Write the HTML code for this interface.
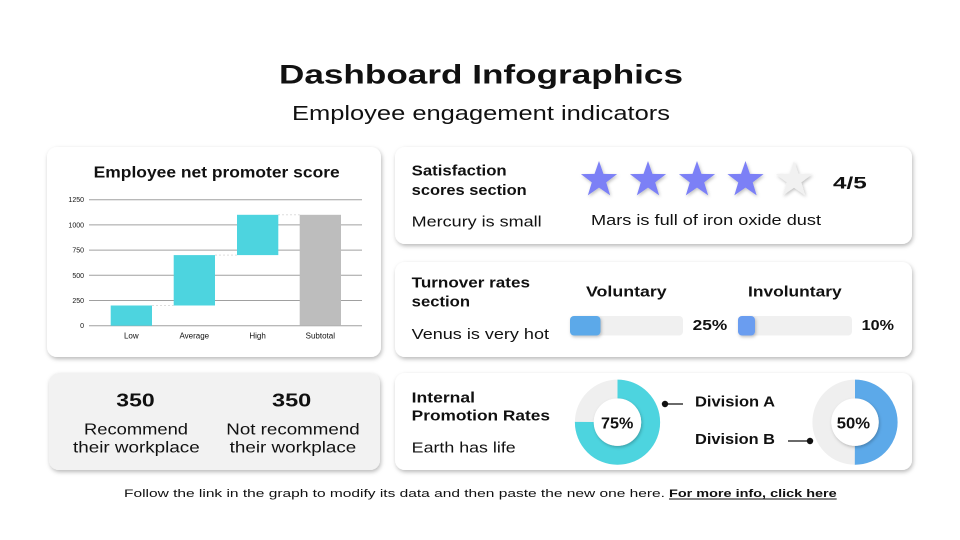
<!DOCTYPE html>
<html><head><meta charset="utf-8">
<style>
html,body{margin:0;padding:0;background:#fff;}
svg{display:block;}
text{font-family:"Liberation Sans",sans-serif;fill:#111;}
.b{font-weight:bold;}
</style></head>
<body>
<svg width="960" height="540" viewBox="0 0 960 540" xmlns="http://www.w3.org/2000/svg">
<defs>
<filter id="sh" x="-10%" y="-10%" width="120%" height="130%">
<feDropShadow dx="1" dy="2" stdDeviation="2" flood-color="#000" flood-opacity="0.28"/>
</filter>
<filter id="sh2" x="-30%" y="-30%" width="160%" height="160%">
<feDropShadow dx="1" dy="1.5" stdDeviation="1.5" flood-color="#000" flood-opacity="0.25"/>
</filter>
<polygon id="star" points="0,-19 4.47,-6.15 18.07,-5.87 7.23,2.35 11.17,15.37 0,7.6 -11.17,15.37 -7.23,2.35 -18.07,-5.87 -4.47,-6.15"/>
</defs>
<rect width="960" height="540" fill="#fff"/>

<!-- Titles -->
<text x="279" y="83.5" font-size="27" class="b" textLength="404" lengthAdjust="spacingAndGlyphs">Dashboard Infographics</text>
<text x="292" y="120" font-size="20" textLength="378" lengthAdjust="spacingAndGlyphs">Employee engagement indicators</text>

<!-- Cards -->
<rect x="47" y="147" width="334" height="210" rx="10" fill="#fff" filter="url(#sh)"/>
<rect x="49" y="373" width="331" height="97" rx="10" fill="#f2f2f2" filter="url(#sh)"/>
<rect x="395" y="147" width="517" height="97" rx="10" fill="#fff" filter="url(#sh)"/>
<rect x="395" y="262" width="517" height="95" rx="10" fill="#fff" filter="url(#sh)"/>
<rect x="395" y="373" width="517" height="97" rx="10" fill="#fff" filter="url(#sh)"/>

<!-- Chart card -->
<text x="93.7" y="177.3" font-size="16" class="b" textLength="246" lengthAdjust="spacingAndGlyphs">Employee net promoter score</text>
<g stroke="#a0a0a0" stroke-width="1">
<line x1="89" y1="199.7" x2="362" y2="199.7"/>
<line x1="89" y1="224.9" x2="362" y2="224.9"/>
<line x1="89" y1="250.1" x2="362" y2="250.1"/>
<line x1="89" y1="275.3" x2="362" y2="275.3"/>
<line x1="89" y1="300.5" x2="362" y2="300.5"/>
<line x1="89" y1="325.7" x2="362" y2="325.7"/>
</g>
<g font-size="7" text-anchor="end">
<text x="84" y="202.2">1250</text>
<text x="84" y="227.4">1000</text>
<text x="84" y="252.6">750</text>
<text x="84" y="277.8">500</text>
<text x="84" y="303">250</text>
<text x="84" y="328.2">0</text>
</g>
<g stroke="#dddddd" stroke-width="1" stroke-dasharray="2,2">
<line x1="152" y1="305.5" x2="173.7" y2="305.5"/>
<line x1="215" y1="255.1" x2="237" y2="255.1"/>
<line x1="278" y1="214.8" x2="299.7" y2="214.8"/>
</g>
<rect x="110.7" y="305.5" width="41.3" height="20.2" fill="#4dd4df"/>
<rect x="173.7" y="255.1" width="41.3" height="50.4" fill="#4dd4df"/>
<rect x="237" y="214.8" width="41.3" height="40.3" fill="#4dd4df"/>
<rect x="299.7" y="214.8" width="41.3" height="110.9" fill="#bdbdbd"/>
<g font-size="8" text-anchor="middle">
<text x="131.3" y="338.5">Low</text>
<text x="194.3" y="338.5">Average</text>
<text x="257.6" y="338.5">High</text>
<text x="320.3" y="338.5">Subtotal</text>
</g>

<!-- Gray card -->
<text x="116.3" y="406.7" font-size="18" class="b" textLength="38.4" lengthAdjust="spacingAndGlyphs">350</text>
<text x="84" y="434.3" font-size="16" textLength="104" lengthAdjust="spacingAndGlyphs">Recommend</text>
<text x="73" y="452.7" font-size="16" textLength="126.7" lengthAdjust="spacingAndGlyphs">their workplace</text>
<text x="272" y="406.7" font-size="18" class="b" textLength="39.3" lengthAdjust="spacingAndGlyphs">350</text>
<text x="226.3" y="434.3" font-size="16" textLength="133.4" lengthAdjust="spacingAndGlyphs">Not recommend</text>
<text x="229.7" y="452.7" font-size="16" textLength="126.6" lengthAdjust="spacingAndGlyphs">their workplace</text>

<!-- Satisfaction card -->
<text x="411.7" y="175.7" font-size="15" class="b" textLength="95" lengthAdjust="spacingAndGlyphs">Satisfaction</text>
<text x="411.7" y="195" font-size="15" class="b" textLength="115" lengthAdjust="spacingAndGlyphs">scores section</text>
<text x="411.7" y="226.7" font-size="15" textLength="130" lengthAdjust="spacingAndGlyphs">Mercury is small</text>
<g filter="url(#sh2)">
<use href="#star" x="599" y="180" fill="#7b80f6"/>
<use href="#star" x="648" y="180" fill="#7b80f6"/>
<use href="#star" x="697" y="180" fill="#7b80f6"/>
<use href="#star" x="745.5" y="180" fill="#7b80f6"/>
<use href="#star" x="794" y="180" fill="#f1f1f1"/>
</g>
<text x="833" y="188.3" font-size="17" class="b" textLength="33.7" lengthAdjust="spacingAndGlyphs">4/5</text>
<text x="591" y="225" font-size="15" textLength="230" lengthAdjust="spacingAndGlyphs">Mars is full of iron oxide dust</text>

<!-- Turnover card -->
<text x="411.7" y="287.7" font-size="15" class="b" textLength="118.3" lengthAdjust="spacingAndGlyphs">Turnover rates</text>
<text x="411.7" y="306.7" font-size="15" class="b" textLength="58.3" lengthAdjust="spacingAndGlyphs">section</text>
<text x="411.7" y="339" font-size="15" textLength="137.3" lengthAdjust="spacingAndGlyphs">Venus is very hot</text>
<text x="586" y="296.7" font-size="15" class="b" textLength="80.7" lengthAdjust="spacingAndGlyphs">Voluntary</text>
<text x="748" y="296.7" font-size="15" class="b" textLength="93.7" lengthAdjust="spacingAndGlyphs">Involuntary</text>
<rect x="570" y="316" width="113" height="19.5" rx="4" fill="#f0f0f0"/>
<rect x="570" y="316" width="30.5" height="19.5" rx="4" fill="#5ca9e9" filter="url(#sh2)"/>
<text x="692.7" y="330" font-size="15" class="b" textLength="34.6" lengthAdjust="spacingAndGlyphs">25%</text>
<rect x="738" y="316" width="114" height="19.5" rx="4" fill="#f0f0f0"/>
<rect x="738" y="316" width="17" height="19.5" rx="4" fill="#6b9df0" filter="url(#sh2)"/>
<text x="861.7" y="330" font-size="15" class="b" textLength="32.3" lengthAdjust="spacingAndGlyphs">10%</text>

<!-- Promotion card -->
<text x="411.7" y="402.3" font-size="15" class="b" textLength="63.3" lengthAdjust="spacingAndGlyphs">Internal</text>
<text x="411.7" y="420.7" font-size="15" class="b" textLength="138.3" lengthAdjust="spacingAndGlyphs">Promotion Rates</text>
<text x="411.7" y="452.3" font-size="15" textLength="104" lengthAdjust="spacingAndGlyphs">Earth has life</text>

<!-- Donut 1 -->
<circle cx="617.5" cy="422.2" r="33.2" fill="none" stroke="#efefef" stroke-width="18.8"/>
<circle cx="617.5" cy="422.2" r="33.2" fill="none" stroke="#4dd4df" stroke-width="18.8" stroke-dasharray="156.45 300" transform="rotate(-90 617.5 422.2)"/>
<circle cx="617.5" cy="422.2" r="23.6" fill="#fff" filter="url(#sh2)"/>
<text x="617.2" y="428.7" font-size="16" class="b" text-anchor="middle" textLength="32.3" lengthAdjust="spacingAndGlyphs">75%</text>

<!-- Donut 2 -->
<circle cx="855" cy="422.2" r="33.2" fill="none" stroke="#efefef" stroke-width="18.8"/>
<circle cx="855" cy="422.2" r="33.2" fill="none" stroke="#5ca9e9" stroke-width="18.8" stroke-dasharray="104.3 300" transform="rotate(-90 855 422.2)"/>
<circle cx="855" cy="422.2" r="23.6" fill="#fff" filter="url(#sh2)"/>
<text x="853.4" y="428.7" font-size="16" class="b" text-anchor="middle" textLength="33.3" lengthAdjust="spacingAndGlyphs">50%</text>

<!-- Leaders -->
<line x1="665" y1="404" x2="683" y2="404" stroke="#111" stroke-width="1.2"/>
<circle cx="665" cy="404" r="3.2" fill="#111"/>
<text x="695" y="406.3" font-size="15" class="b" textLength="80" lengthAdjust="spacingAndGlyphs">Division A</text>
<line x1="788" y1="441" x2="810" y2="441" stroke="#111" stroke-width="1.2"/>
<circle cx="810" cy="441" r="3.2" fill="#111"/>
<text x="695" y="444" font-size="15" class="b" textLength="80" lengthAdjust="spacingAndGlyphs">Division B</text>

<!-- Footer -->
<text x="124" y="497" font-size="11" textLength="541" lengthAdjust="spacingAndGlyphs">Follow the link in the graph to modify its data and then paste the new one here.</text>
<text x="669" y="497" font-size="11" class="b" textLength="167.7" lengthAdjust="spacingAndGlyphs">For more info, click here</text>
<line x1="669" y1="499" x2="836.7" y2="499" stroke="#111" stroke-width="1"/>
</svg>
</body></html>
